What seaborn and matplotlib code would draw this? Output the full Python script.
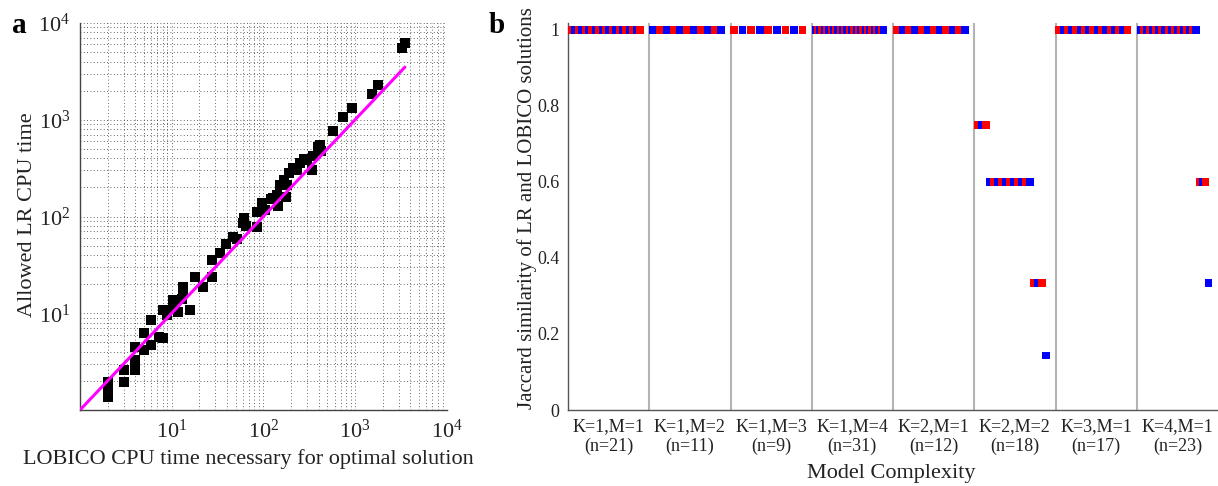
import numpy as np
import pandas as pd
import matplotlib
matplotlib.use("Agg")
import matplotlib.pyplot as plt
import matplotlib.ticker as mticker
import seaborn as sns

# ---------------- data: panel a ----------------
lobico_time = [2.0, 2.0, 2.0, 3.0, 3.0, 4.0, 4.0, 4.0, 5.0, 5.0, 6.0, 6.0, 7.2, 8.1, 8.1,
               9.0, 10.4, 10.4, 11.8, 13.4, 13.4, 13.0, 15.9, 18, 22, 27.3, 27.3, 33.7, 39, 47,
               51, 60, 62, 65, 84.6, 84.6, 96, 105, 120, 128, 140, 146, 152, 166, 175, 180,
               190, 213, 230, 251, 280, 297, 337, 350, 398, 415, 430, 570, 745, 920, 1520,
               1800, 3230, 3510]
allowed_time = [1.96, 1.61, 1.37, 2.59, 1.96, 4.5, 3.3, 2.6, 6.2, 4.2, 8.5, 4.7, 5.7, 5.5, 10.8,
                9.6, 13.7, 12, 10.4, 17.4, 18.8, 14, 10.8, 23.9, 18.8, 35.5, 23.9, 41.7, 52, 62,
                58, 85, 96, 79, 78.5, 112, 137, 117, 150, 155, 167, 129, 212, 240, 160, 210,
                280, 316, 300, 355, 390, 385, 305, 420, 528, 552, 480, 760, 1070, 1320, 1860,
                2290, 5500, 6180]
diag_line = [1.0, 3500.0]

# ---------------- data: panel b ----------------
categories = ["K=1,M=1", "K=1,M=2", "K=1,M=3", "K=1,M=4",
              "K=2,M=1", "K=2,M=2", "K=3,M=1", "K=4,M=1"]
n_models = [21, 11, 9, 31, 12, 18, 17, 23]
# (jaccard value, number of models) per category, in descending order
jac_K1M1 = [(1.0, 21)]
jac_K1M2 = [(1.0, 11)]
jac_K1M3 = [(1.0, 9)]
jac_K1M4 = [(1.0, 31)]
jac_K2M1 = [(1.0, 12)]
jac_K2M2 = [(0.75, 3), (0.6, 11), (1 / 3, 3), (1 / 7, 1)]
jac_K3M1 = [(1.0, 17)]
jac_K4M1 = [(1.0, 19), (0.6, 3), (1 / 3, 1)]
jaccard_groups = [jac_K1M1, jac_K1M2, jac_K1M3, jac_K1M4,
                  jac_K2M1, jac_K2M2, jac_K3M1, jac_K4M1]

# ---------------- style ----------------
sns.set_theme(style="white")
plt.rcParams["font.family"] = ["Liberation Serif", "DejaVu Serif"]
plt.rcParams["mathtext.fontset"] = "stix"

W, H = 1218, 486
fig = plt.figure(figsize=(W / 100, H / 100), dpi=100)
ax1 = fig.add_axes([80 / W, 76 / H, 366.7 / W, 387 / H])
ax2 = fig.add_axes([568 / W, 76 / H, 650 / W, 387 / H])

# ---------------- panel a ----------------
ax1.set_xscale("log")
ax1.set_yscale("log")
ax1.set_xlim(1, 1e4)
ax1.set_ylim(1, 1e4)
ax1.grid(True, which="both", linestyle=(0, (1, 3)), color="#333333", linewidth=0.6)
ax1.set_axisbelow(True)
sns.lineplot(x=diag_line, y=diag_line, ax=ax1, color="#ff00ff", linewidth=2.2, zorder=4)
sns.scatterplot(x=lobico_time, y=allowed_time, ax=ax1, marker="s", s=48,
                color="black", linewidth=0, zorder=3)
ax1.xaxis.set_major_locator(mticker.FixedLocator([10, 100, 1000, 10000]))
ax1.yaxis.set_major_locator(mticker.FixedLocator([10, 100, 1000, 10000]))
ax1.xaxis.set_major_formatter(mticker.LogFormatterMathtext())
ax1.yaxis.set_major_formatter(mticker.LogFormatterMathtext())
ax1.xaxis.set_minor_locator(mticker.LogLocator(base=10, subs=np.arange(2, 10), numticks=20))
ax1.yaxis.set_minor_locator(mticker.LogLocator(base=10, subs=np.arange(2, 10), numticks=20))
ax1.xaxis.set_minor_formatter(mticker.NullFormatter())
ax1.yaxis.set_minor_formatter(mticker.NullFormatter())
ax1.tick_params(which="both", length=0, labelsize=16, pad=7, colors="#222222")
for s in ["top", "right"]:
    ax1.spines[s].set_visible(False)
for s in ["left", "bottom"]:
    ax1.spines[s].set_color("#444444")
    ax1.spines[s].set_linewidth(1.0)
ax1.set_xlabel("LOBICO CPU time necessary for optimal solution", fontsize=16, color="#222222")
ax1.set_ylabel("Allowed LR CPU time", fontsize=16, color="#222222")
ax1.xaxis.set_label_coords(0.46, -0.1)
ax1.yaxis.set_label_coords(-0.118, 0.505)

# ---------------- panel b ----------------
rows = []
gidx = 0
for i, grp in enumerate(jaccard_groups):
    vals = np.concatenate([np.full(c, v) for v, c in grp])
    n = len(vals)
    for j, v in enumerate(vals):
        rows.append({"pos": i - 0.455 + 0.84 * j / (n - 1), "jaccard": v, "parity": gidx % 2})
        gidx += 1
df = pd.DataFrame(rows)

for b in np.arange(0.5, len(categories) - 0.5, 1.0):
    ax2.axvline(b, color="#b4b4b4", linewidth=1.5, zorder=1)
sns.scatterplot(data=df, x="pos", y="jaccard", hue="parity",
                palette={0: "#ff0000", 1: "#0000ff"}, marker="s", s=30,
                linewidth=0, legend=False, ax=ax2, zorder=3)
ax2.set_xlim(-0.5, len(categories) - 0.5)
ax2.set_ylim(0, 1.018)
ax2.set_xticks(range(len(categories)))
ax2.set_xticklabels([f"{c}\n(n={n})" for c, n in zip(categories, n_models)],
                    fontsize=13, linespacing=1.15)
ax2.set_yticks([0, 0.2, 0.4, 0.6, 0.8, 1.0])
ax2.set_yticklabels(["0", "0.2", "0.4", "0.6", "0.8", "1"], fontsize=13)
ax2.tick_params(axis="both", direction="in", length=4, width=1, color="#777777",
                labelcolor="#222222", pad=6)
for s in ["top", "right"]:
    ax2.spines[s].set_visible(False)
for s in ["left", "bottom"]:
    ax2.spines[s].set_color("#555555")
    ax2.spines[s].set_linewidth(1.0)
ax2.set_xlabel("Model Complexity", fontsize=16, color="#222222")
ax2.xaxis.set_label_coords(0.498, -0.14)
ax2.set_ylabel("")
fig.text(527 / W, (H - 409) / H, "Jaccard similarity of LR and LOBICO solutions",
         rotation=90, ha="center", va="bottom", fontsize=15, color="#222222")

# panel letters
fig.text(12 / W, 1 - 33 / H, "a", fontsize=21, fontweight="bold", color="black")
fig.text(489 / W, 1 - 33 / H, "b", fontsize=21, fontweight="bold", color="black")

fig.savefig("out.png", dpi=100)
